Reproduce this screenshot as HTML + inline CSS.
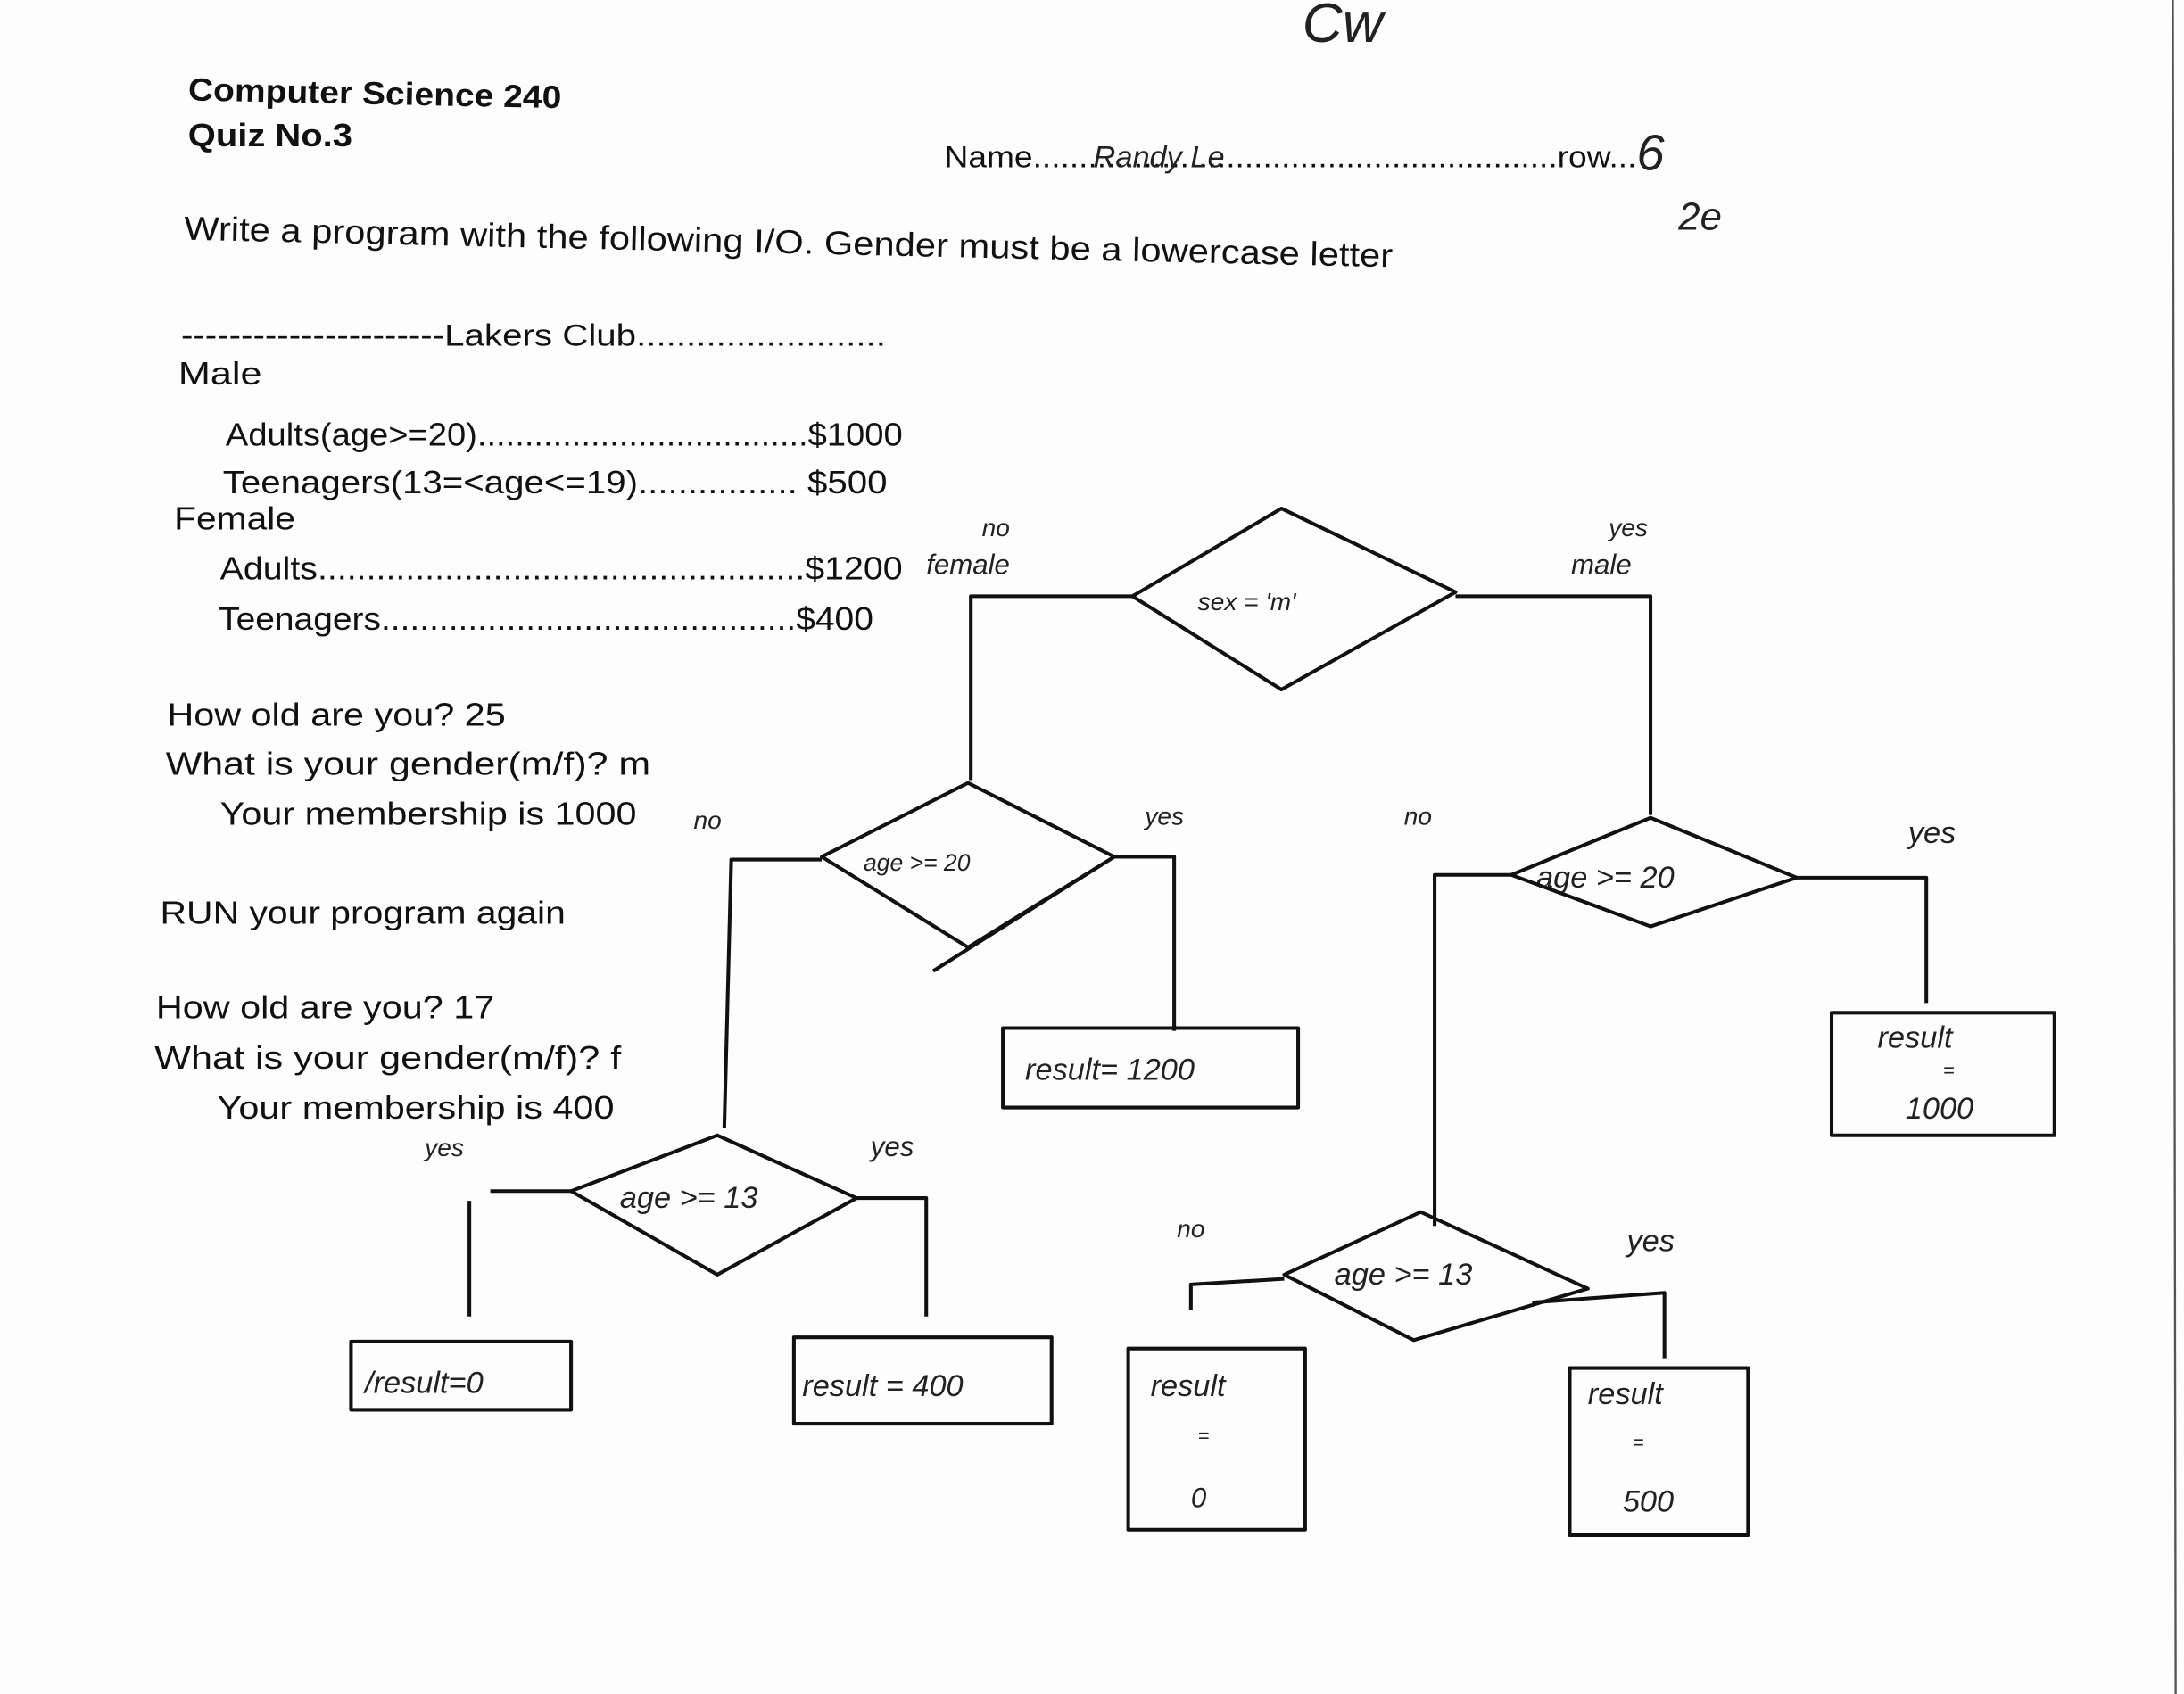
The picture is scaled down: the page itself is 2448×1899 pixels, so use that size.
<!DOCTYPE html>
<html><head><meta charset="utf-8"><style>
html,body{margin:0;padding:0;background:#fff;}
svg{display:block;}
.p{font-family:"Liberation Sans",sans-serif;fill:#111;}
.h{font-family:"Liberation Sans",sans-serif;fill:#222;font-style:italic;font-weight:300;}
</style></head><body>
<svg width="2448" height="1899" viewBox="0 0 1568 1216" preserveAspectRatio="none" xmlns="http://www.w3.org/2000/svg">
<rect width="1568" height="1216" fill="#fdfdfd"/>
<line x1="1560" y1="0" x2="1562" y2="1216" stroke="#555" stroke-width="1.5"/>
<g class="p" lengthAdjust="spacingAndGlyphs">
<text x="135" y="72" font-size="23" font-weight="bold" transform="rotate(1.2 135 72)" textLength="268" lengthAdjust="spacingAndGlyphs">Computer Science 240</text>
<text x="135" y="105" font-size="23" font-weight="bold" textLength="118" lengthAdjust="spacingAndGlyphs">Quiz No.3</text>
<text x="678" y="120" font-size="22" textLength="497" lengthAdjust="spacingAndGlyphs">Name.........................................................row...</text>
<text x="132" y="172" font-size="24" transform="rotate(1.3 132 172)" textLength="868" lengthAdjust="spacingAndGlyphs">Write a program with the following I/O. Gender must be a lowercase letter</text>
<text x="130" y="248" font-size="22" textLength="506" lengthAdjust="spacingAndGlyphs">----------------------Lakers Club.........................</text>
<text x="128" y="276" font-size="23" textLength="60" lengthAdjust="spacingAndGlyphs">Male</text>
<text x="162" y="320" font-size="23" textLength="486" lengthAdjust="spacingAndGlyphs">Adults(age&gt;=20)...................................$1000</text>
<text x="160" y="354" font-size="23" textLength="477" lengthAdjust="spacingAndGlyphs">Teenagers(13=&lt;age&lt;=19)................  $500</text>
<text x="125" y="380" font-size="23" textLength="87" lengthAdjust="spacingAndGlyphs">Female</text>
<text x="158" y="416" font-size="23" textLength="490" lengthAdjust="spacingAndGlyphs">Adults..................................................$1200</text>
<text x="157" y="452" font-size="23" textLength="470" lengthAdjust="spacingAndGlyphs">Teenagers...........................................$400</text>
<text x="120" y="521" font-size="23" textLength="243" lengthAdjust="spacingAndGlyphs">How old are you? 25</text>
<text x="119" y="556" font-size="23" textLength="348" lengthAdjust="spacingAndGlyphs">What is your gender(m/f)?  m</text>
<text x="158" y="592" font-size="23" textLength="299" lengthAdjust="spacingAndGlyphs">Your membership is 1000</text>
<text x="115" y="663" font-size="23" textLength="291" lengthAdjust="spacingAndGlyphs">RUN your program again</text>
<text x="112" y="731" font-size="23" textLength="243" lengthAdjust="spacingAndGlyphs">How old are you? 17</text>
<text x="111" y="767" font-size="23" textLength="335" lengthAdjust="spacingAndGlyphs">What is your gender(m/f)?  f</text>
<text x="156" y="803" font-size="23" textLength="285" lengthAdjust="spacingAndGlyphs">Your membership is 400</text>
</g>
<g class="h" font-size="18">
<text x="785" y="120" font-size="22">Randy Le</text>
<text x="1175" y="122" font-size="36">6</text>
<text x="1205" y="165" font-size="28">2e</text>
<text x="935" y="30" font-size="40">Cw</text>
<text x="705" y="385">no</text><text x="665" y="412" font-size="20">female</text>
<text x="1155" y="385">yes</text><text x="1128" y="412" font-size="20">male</text>
<text x="860" y="438" font-size="18">sex = 'm'</text>
<text x="498" y="595">no</text><text x="822" y="592">yes</text>
<text x="620" y="625" font-size="17">age &gt;= 20</text>
<text x="1008" y="592">no</text><text x="1370" y="605" font-size="22">yes</text>
<text x="1103" y="637" font-size="22">age &gt;= 20</text>
<text x="305" y="830">yes</text><text x="625" y="830" font-size="20">yes</text>
<text x="445" y="867" font-size="22">age &gt;= 13</text>
<text x="845" y="888">no</text><text x="1168" y="898" font-size="22">yes</text>
<text x="958" y="922" font-size="22">age &gt;= 13</text>
<text x="736" y="775" font-size="22">result= 1200</text>
<text x="1348" y="752" font-size="22">result</text><text x="1395" y="773" font-size="14">=</text><text x="1368" y="803" font-size="22">1000</text>
<text x="262" y="1000" font-size="22">/result=0</text>
<text x="576" y="1002" font-size="22">result = 400</text>
<text x="826" y="1002" font-size="22">result</text><text x="860" y="1035" font-size="14">=</text><text x="855" y="1082" font-size="20">0</text>
<text x="1140" y="1008" font-size="22">result</text><text x="1172" y="1040" font-size="14">=</text><text x="1165" y="1085" font-size="22">500</text>
</g>
<g fill="none" stroke="#111" stroke-width="2.6" stroke-linejoin="round">
<polygon points="813,428 920,365 1045,425 920,495"/>
<polyline points="813,428 697,428 697,560"/>
<polyline points="1045,428 1185,428 1185,585"/>
<polygon points="590,615 695,562 800,615 695,680"/>
<line x1="670" y1="697" x2="800" y2="615"/>
<polyline points="590,617 525,617 520,810"/>
<polyline points="800,615 843,615 843,740"/>
<rect x="720" y="738" width="212" height="57"/>
<polygon points="1085,628 1185,587 1290,630 1185,665"/>
<polyline points="1085,628 1030,628 1030,880"/>
<polyline points="1290,630 1383,630 1383,720"/>
<rect x="1315" y="727" width="160" height="88"/>
<polygon points="410,855 515,815 615,860 515,915"/>
<polyline points="410,855 352,855"/>
<line x1="337" y1="862" x2="337" y2="945"/>
<polyline points="615,860 665,860 665,945"/>
<rect x="252" y="963" width="158" height="49"/>
<rect x="570" y="960" width="185" height="62"/>
<polygon points="922,915 1020,870 1140,925 1015,962"/>
<polyline points="922,918 855,922 855,940"/>
<polyline points="1100,935 1195,928 1195,975"/>
<rect x="810" y="968" width="127" height="130"/>
<rect x="1127" y="982" width="128" height="120"/>
</g>
</svg>
</body></html>
